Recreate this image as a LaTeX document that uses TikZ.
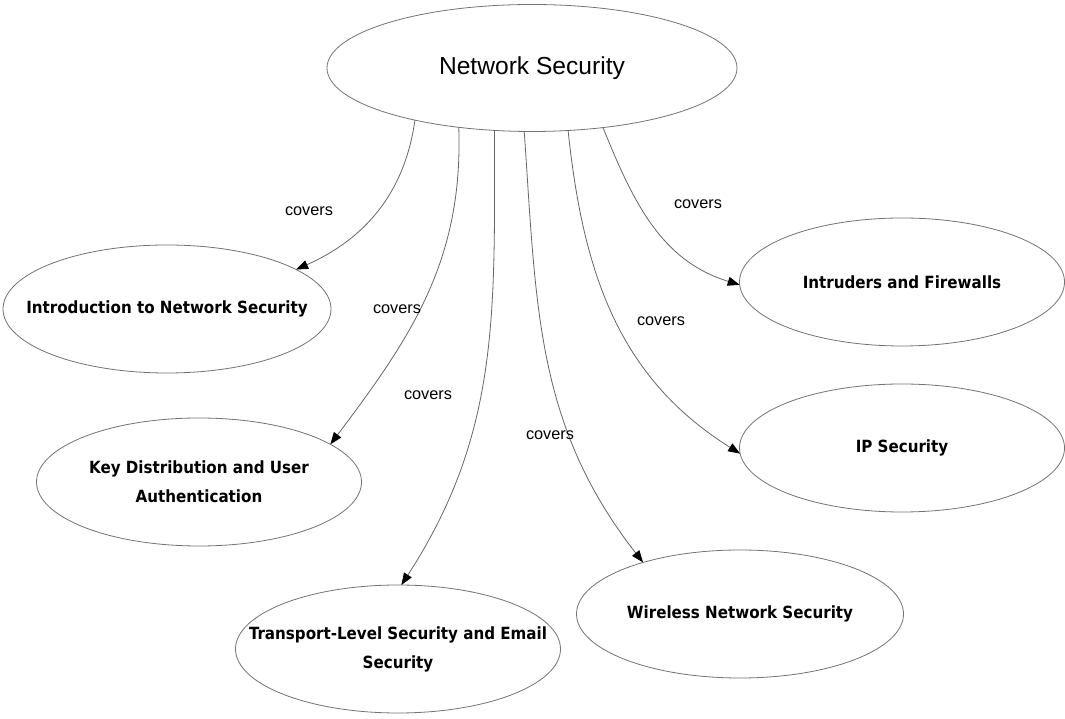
\documentclass[tikz,border=0pt]{standalone}
\usepackage{fontspec}
\setmainfont{Liberation Sans}
\newfontfamily\topicfont{DejaVu Sans Condensed}
\usetikzlibrary{shapes.geometric,arrows.meta}
\begin{document}
\begin{tikzpicture}[x=1pt,y=1pt,
  topic/.style={ellipse, draw=black!55, line width=0.8pt, inner sep=0pt, outer sep=0pt,
    minimum width=325pt, minimum height=128pt},
  topictext/.style={font=\topicfont\bfseries\fontsize{16.8}{29}\selectfont, align=center, inner sep=0pt},
  relation/.style={draw=black!60, line width=0.8pt, -{Triangle[length=12pt,width=9pt,color=black]}},
  rel/.style={font=\fontsize{16.3}{18}\selectfont, inner sep=0pt}
]
\useasboundingbox[fill=white] (0,0) rectangle (1065,719);

% root concept
\node[topic, minimum width=410pt, minimum height=127pt] (ns) at (532,651) {};
\node[font=\fontsize{24.6}{28}\selectfont, inner sep=0pt] (nstext) at (ns) {Network Security};

% sub-topics
\node[topic, minimum width=328pt] (intro) at (167,410) {};
\node[topictext] (introtext) at (intro) {Introduction to Network Security};

\node[topic] (keyd) at (199,237) {};
\node[topictext] (keydtext) at (keyd) {Key Distribution and User\\Authentication};

\node[topic] (trans) at (398,70) {};
\node[topictext] (transtext) at (trans) {Transport-Level Security and Email\\Security};

\node[topic, minimum width=327pt] (wire) at (740,105) {};
\node[topictext] (wiretext) at (wire) {Wireless Network Security};

\node[topic] (ip) at (902,271) {};
\node[topictext] (iptext) at (ip) {IP Security};

\node[topic] (intr) at (902,437) {};
\node[topictext] (intrtext) at (intr) {Intruders and Firewalls};

% "covers" relations
\draw[relation] (ns.-156.6) to[out=-98, in=24] (intro.17);
\draw[relation] (ns.-141.3) to[out=-88, in=53] (keyd.16);
\draw[relation] (ns.-121.6) to[out=-90, in=57] (trans.87);
\draw[relation] (ns.-97) to[out=-86, in=128] (wire.152);
\draw[relation] (ns.-60.6) to[out=-84, in=148] (ip.182);
\draw[relation] (ns.-40.7) to[out=-68, in=163] (intr.181);

% relation labels
\node[rel] (c1) at (309,508) {covers};
\node[rel] (c2) at (397,410) {covers};
\node[rel] (c3) at (428,324) {covers};
\node[rel] (c4) at (550,284) {covers};
\node[rel] (c5) at (661,398) {covers};
\node[rel] (c6) at (698,515) {covers};
\end{tikzpicture}
\end{document}
